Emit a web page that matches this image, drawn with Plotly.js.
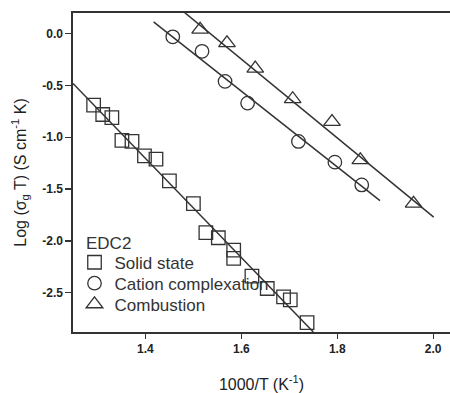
<!DOCTYPE html>
<html>
<head>
<meta charset="utf-8">
<script src="https://cdn.plot.ly/plotly-3.0.1.min.js"></script>
<style>html,body{margin:0;padding:0;background:#fff;}#chart{width:450px;height:393px;}</style>
</head>
<body>
<div id="chart"></div>
<script>
// Data
const solidX = [1.292, 1.311, 1.330, 1.351, 1.372, 1.398, 1.422, 1.450, 1.500, 1.526, 1.552, 1.584, 1.584, 1.622, 1.654, 1.688, 1.702, 1.737];
const solidY = [-0.69, -0.78, -0.81, -1.03, -1.04, -1.18, -1.21, -1.42, -1.64, -1.92, -1.97, -2.09, -2.17, -2.34, -2.46, -2.54, -2.57, -2.79];
const cationX = [1.457, 1.518, 1.566, 1.613, 1.719, 1.795, 1.851];
const cationY = [-0.03, -0.17, -0.46, -0.67, -1.04, -1.24, -1.46];
const combX = [1.514, 1.570, 1.629, 1.707, 1.789, 1.848, 1.959];
const combY = [0.04, -0.09, -0.335, -0.63, -0.85, -1.22, -1.64];

// Linear fit lines (end points)
const solidFitX = [1.249, 1.750];
const solidFitY = [-0.48, -2.88];
const cationFitX = [1.417, 1.889];
const cationFitY = [0.114, -1.611];
const combFitX = [1.476, 2.001];
const combFitY = [0.226, -1.771];

const legendTitle = "EDC2";
const seriesNames = ["Solid state", "Cation complexation", "Combustion"];
const yTickVals = [0, -0.5, -1.0, -1.5, -2.0, -2.5];
const yTickText = ["0.0", "-0.5", "-1.0", "-1.5", "-2.0", "-2.5"];
const xTickVals = [1.4, 1.6, 1.8, 2.0];
const xTickText = ["1.4", "1.6", "1.8", "2.0"];

const ink = '#333';
const mk = (sym, size) => ({symbol: sym, size: size, color: ink, line: {color: ink, width: 1.3}});
const lineStyle = {color: ink, width: 1.5};

const traces = [
  {x: solidFitX, y: solidFitY, mode: 'lines', line: lineStyle, showlegend: false, hoverinfo: 'skip'},
  {x: cationFitX, y: cationFitY, mode: 'lines', line: lineStyle, showlegend: false, hoverinfo: 'skip'},
  {x: combFitX, y: combFitY, mode: 'lines', line: lineStyle, showlegend: false, hoverinfo: 'skip'},
  {x: solidX, y: solidY, mode: 'markers', name: seriesNames[0], marker: mk('square-open', 13.5), cliponaxis: false, legend: 'legend'},
  {x: cationX, y: cationY, mode: 'markers', name: seriesNames[1], marker: mk('circle-open', 13.5), legend: 'legend2'},
  {x: combX, y: combY, mode: 'markers', name: seriesNames[2], marker: mk('triangle-up-open', 14.5), legend: 'legend3'}
];

const fam = 'Liberation Sans, Arial, sans-serif';
const tickFont = {family: fam, size: 12, color: '#222', weight: 'bold'};
const legFont = {family: fam, size: 17, color: '#333'};
// plot area: top 12.5, height 320
const py = (pix) => 1 - (pix - 12.5) / 320;
const mkLegend = (pix) => ({
  x: 0.004, y: py(pix), xanchor: 'left', yanchor: 'middle',
  bgcolor: 'rgba(255,255,255,0)', borderwidth: 0, font: legFont
});

const layout = {
  width: 450, height: 393,
  margin: {l: 73, r: 0, t: 12.5, b: 60.5, pad: 0},
  paper_bgcolor: '#fff', plot_bgcolor: '#fff',
  font: {family: fam, color: '#222'},
  showlegend: true,
  legend: mkLegend(263),
  legend2: mkLegend(284),
  legend3: mkLegend(305),
  annotations: [{
    text: legendTitle, xref: 'paper', yref: 'paper', x: 0.03, y: py(244),
    xanchor: 'left', yanchor: 'middle', showarrow: false,
    font: legFont
  }],
  xaxis: {
    range: [1.249, 2.035],
    tickvals: xTickVals, ticktext: xTickText,
    ticks: 'outside', ticklen: 5, tickwidth: 1.3, tickcolor: ink,
    showline: true, linecolor: ink, linewidth: 1.6, mirror: true,
    showgrid: false, zeroline: false,
    tickfont: tickFont,
    title: {text: '1000/T (K<sup>-1</sup>)', font: {size: 16, color: '#222'}, standoff: 24}
  },
  yaxis: {
    range: [-2.88, 0.20],
    tickvals: yTickVals, ticktext: yTickText,
    ticks: 'outside', ticklen: 6, tickwidth: 1.3, tickcolor: ink,
    showline: true, linecolor: ink, linewidth: 1.6, mirror: false,
    showgrid: false, zeroline: false,
    tickfont: tickFont,
    title: {text: 'Log (σ<sub>g</sub> T) (S cm<sup>-1</sup> K)', font: {size: 16, color: '#222'}, standoff: 12}
  }
};

Plotly.newPlot('chart', traces, layout, {staticPlot: true, displayModeBar: false});
</script>
</body>
</html>
